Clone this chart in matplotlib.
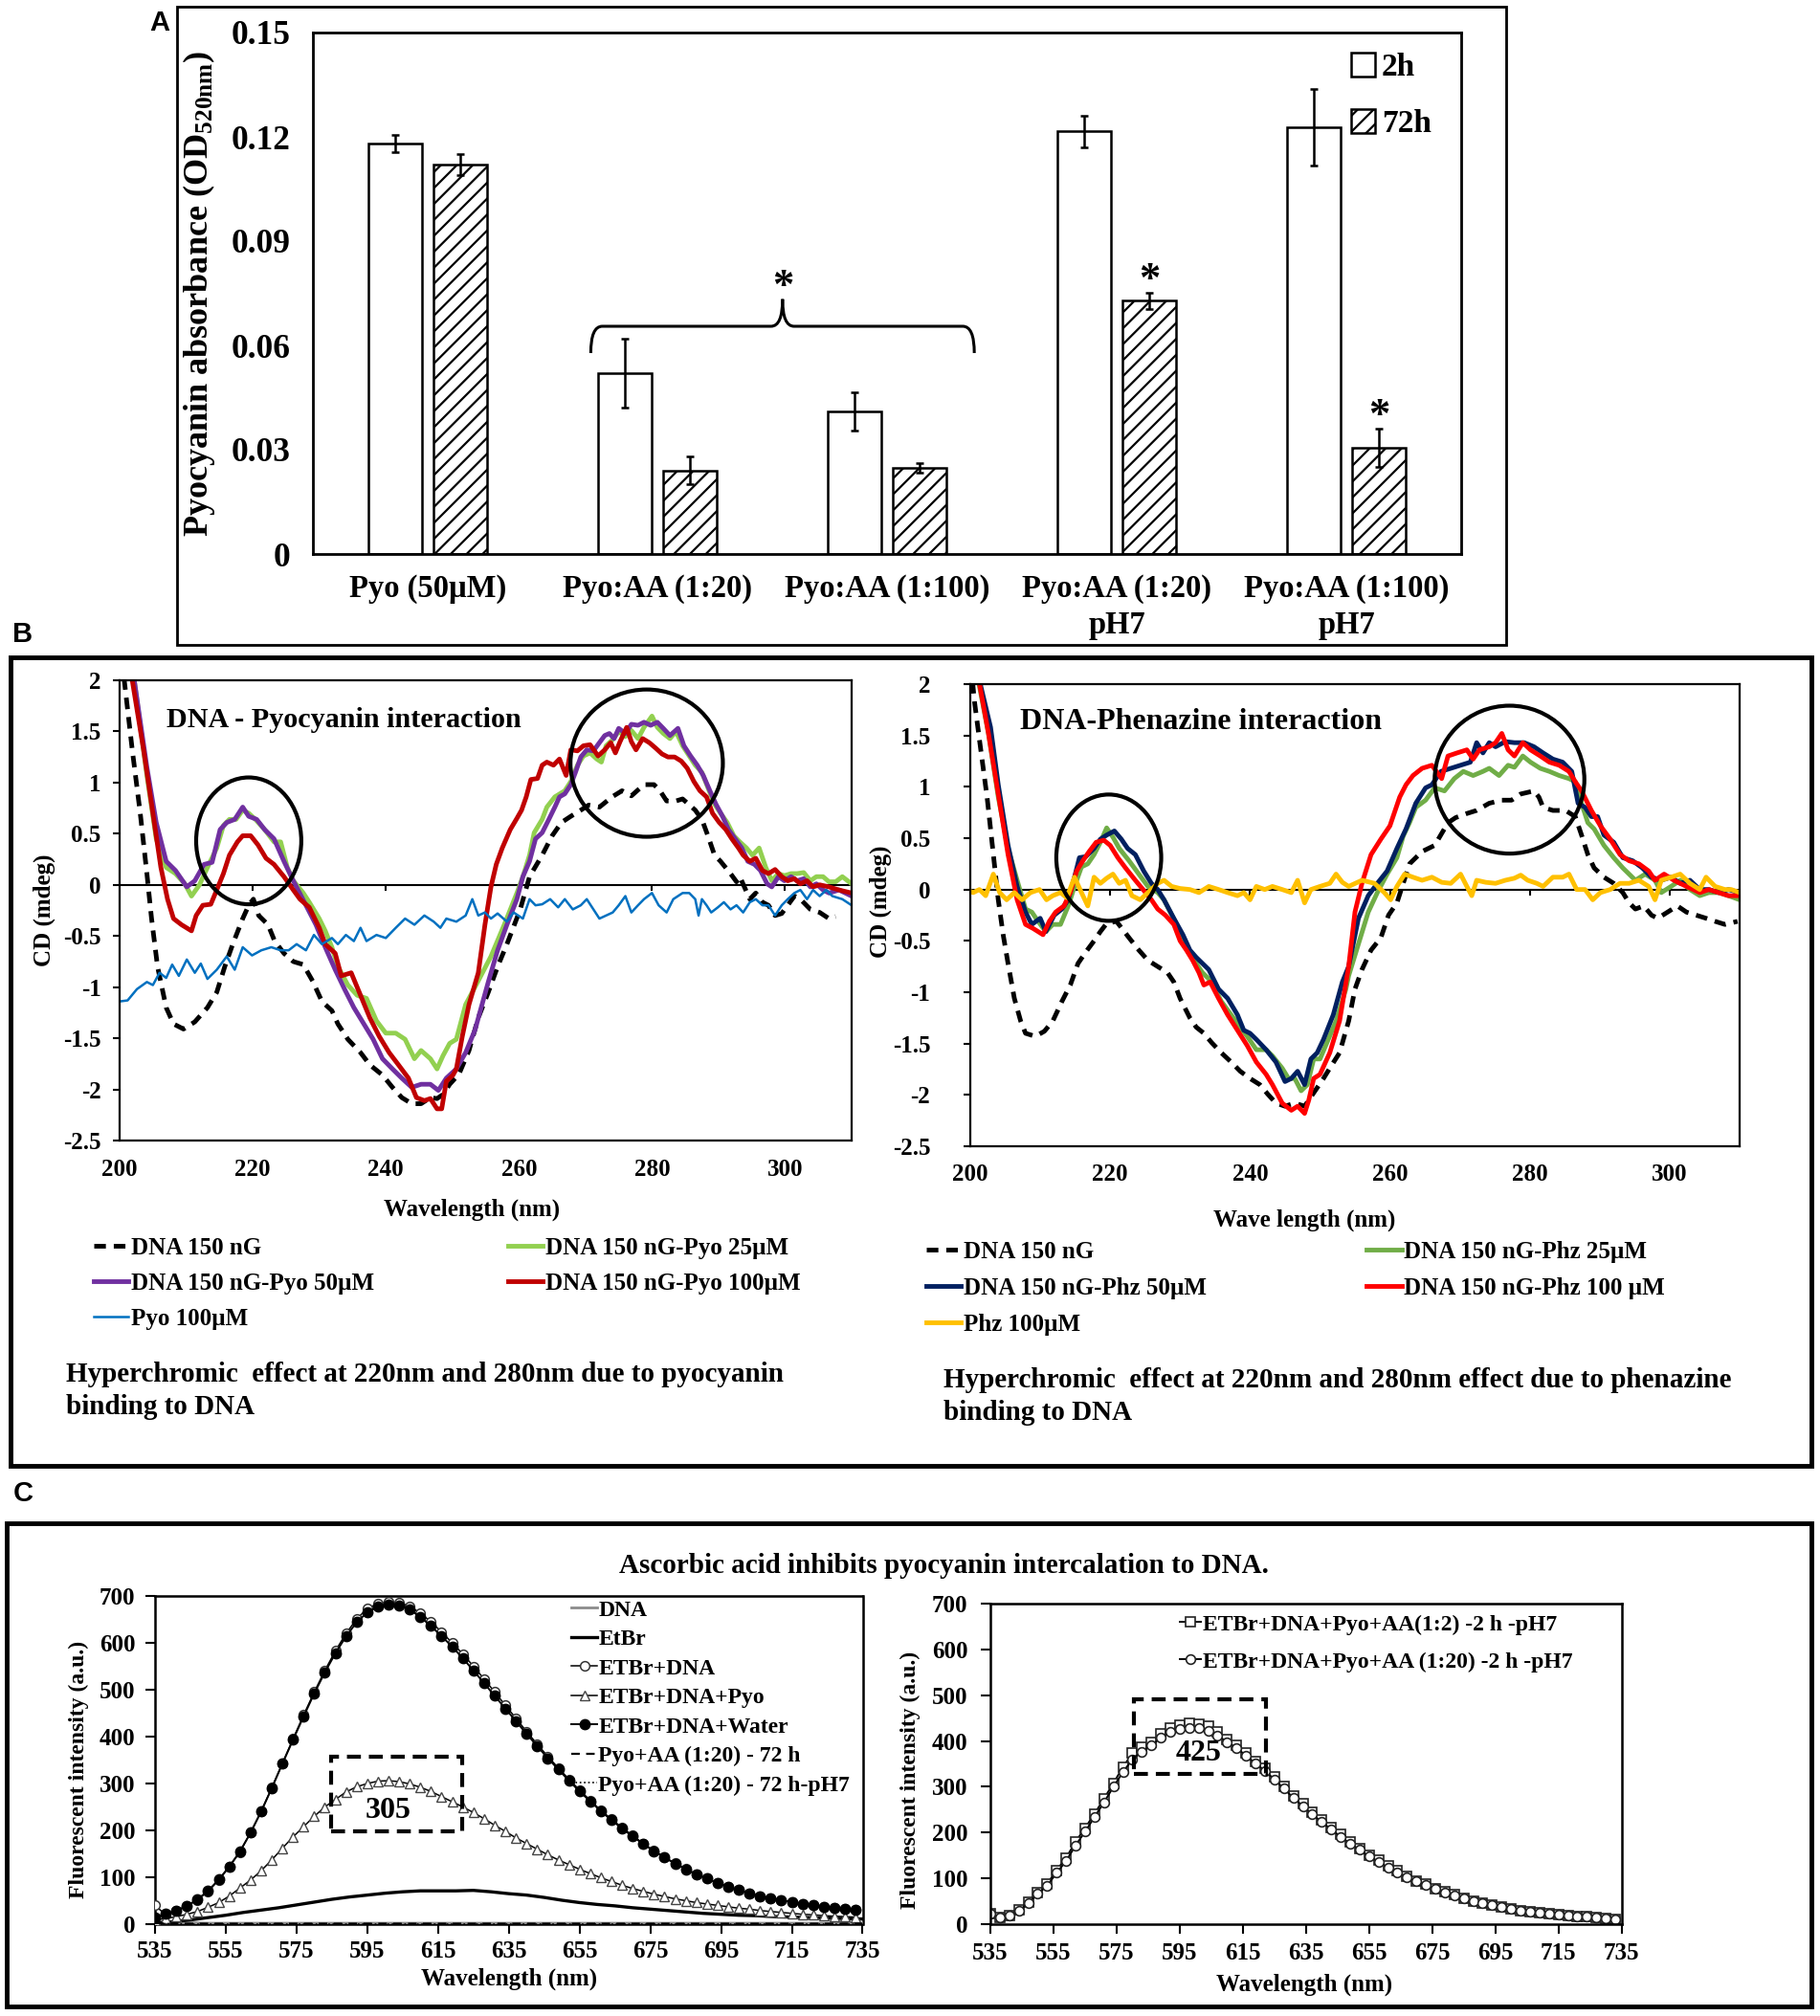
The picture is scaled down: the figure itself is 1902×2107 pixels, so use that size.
import numpy as np
import matplotlib
matplotlib.use("Agg")
import matplotlib.pyplot as plt
from matplotlib.patches import Ellipse, Rectangle, PathPatch
from matplotlib.path import Path
from matplotlib.ticker import FuncFormatter

plt.rcParams['font.family'] = ['Liberation Serif', 'DejaVu Serif']
plt.rcParams['font.weight'] = 'bold'
plt.rcParams['axes.unicode_minus'] = False
plt.rcParams['mathtext.fontset'] = 'custom'
plt.rcParams['mathtext.rm'] = 'Liberation Serif:bold'
plt.rcParams['mathtext.it'] = 'Liberation Serif:bold'
plt.rcParams['mathtext.bf'] = 'Liberation Serif:bold'
plt.rcParams['hatch.linewidth'] = 1.6

# ---------------- panel A data ----------------
groups = ['Pyo (50µM)', 'Pyo:AA (1:20)', 'Pyo:AA (1:100)',
          'Pyo:AA (1:20)\npH7', 'Pyo:AA (1:100)\npH7']
abs_2h = [0.118, 0.052, 0.041, 0.1216, 0.1228]
err_2h = [0.0025, 0.010, 0.0055, 0.0045, 0.011]
abs_72h = [0.112, 0.024, 0.0248, 0.0728, 0.0306]
err_72h = [0.003, 0.004, 0.0013, 0.0023, 0.0055]

# curly bracket over the two AA groups: left end, right end, bar height, foot height, tip height
brace = dict(x0=0.71, x1=2.38, y=0.0655, foot=0.0578, tip=0.0733)

# ---------------- panel B data (wavelength, CD) ----------------
b1_dna = [(200.0, 2.4), (200.7, 2.0), (201.9, 1.32), (203.1, 0.70), (204.1, 0.11), (204.8, -0.33),
          (205.7, -0.80), (207.0, -1.20), (208.1, -1.36), (209.6, -1.41), (211.3, -1.34), (213.2, -1.20),
          (214.6, -1.05), (215.8, -0.80), (217.0, -0.58), (218.5, -0.33), (219.4, -0.20), (220.1, -0.14),
          (220.9, -0.30), (222.3, -0.39), (223.3, -0.55), (224.7, -0.67), (226.1, -0.75), (227.6, -0.78),
          (229.0, -0.94), (230.4, -1.14), (231.9, -1.23), (232.8, -1.36), (234.3, -1.51), (236.2, -1.64),
          (237.6, -1.76), (239.5, -1.86), (241.0, -1.98), (242.4, -2.08), (243.9, -2.14), (245.3, -2.14),
          (246.7, -2.08), (247.7, -2.09), (248.6, -2.05), (249.6, -1.95), (251.0, -1.85), (252.5, -1.62),
          (253.9, -1.30), (255.4, -1.05), (256.8, -0.80), (258.2, -0.58), (260.2, -0.24), (261.6, 0.08),
          (263.5, 0.29), (265.0, 0.48), (266.4, 0.61), (267.8, 0.67), (269.3, 0.73), (270.5, 0.78),
          (272.1, 0.76), (274.0, 0.86), (275.5, 0.92), (276.9, 0.87), (278.8, 0.98), (280.3, 0.98),
          (281.2, 0.92), (282.2, 0.82), (283.6, 0.82), (284.6, 0.84), (286.5, 0.73), (287.5, 0.64),
          (288.4, 0.48), (289.4, 0.29), (290.3, 0.23), (291.8, 0.11), (292.7, 0.03), (293.2, 0.08),
          (294.7, -0.14), (295.6, -0.08), (296.6, -0.17), (297.5, -0.20), (298.5, -0.30), (299.5, -0.28),
          (301.4, -0.11), (302.3, -0.14), (303.8, -0.24), (305.2, -0.27), (306.6, -0.33), (307.6, -0.31)]

b1_pyo25 = [(200.5, 2.5), (202.2, 2.0), (204.1, 1.07), (205.5, 0.45), (207.0, 0.17), (208.4, 0.11),
            (209.8, 0.01), (210.8, -0.11), (212.0, 0.0), (213.2, 0.17), (214.6, 0.36), (215.6, 0.58),
            (216.5, 0.64), (217.5, 0.64), (218.5, 0.73), (219.4, 0.70), (220.4, 0.64), (221.8, 0.54),
            (223.2, 0.42), (224.2, 0.42), (225.2, 0.17), (226.1, 0.04), (227.6, -0.08), (228.5, -0.17),
            (230.0, -0.33), (230.9, -0.45), (231.9, -0.61), (232.8, -0.80), (234.3, -0.98), (235.7, -1.08),
            (237.1, -1.11), (238.6, -1.33), (240.0, -1.45), (241.5, -1.45), (242.9, -1.51), (244.3, -1.70),
            (245.3, -1.62), (246.7, -1.70), (247.7, -1.80), (248.6, -1.67), (249.6, -1.55), (250.6, -1.51),
            (252.0, -1.17), (253.4, -1.00), (255.8, -0.70), (257.8, -0.39), (259.7, -0.08), (260.6, 0.08),
            (261.6, 0.29), (262.3, 0.51), (263.5, 0.64), (264.2, 0.76), (265.4, 0.86), (266.9, 0.92),
            (267.8, 1.01), (268.8, 1.17), (269.7, 1.26), (270.7, 1.29), (271.7, 1.23), (272.4, 1.20),
            (273.1, 1.36), (274.1, 1.42), (275.0, 1.50), (276.0, 1.45), (276.9, 1.51), (277.9, 1.43),
            (278.8, 1.54), (280.0, 1.65), (280.8, 1.54), (281.7, 1.48), (282.7, 1.43), (283.6, 1.50),
            (284.6, 1.36), (285.6, 1.26), (286.5, 1.17), (287.5, 1.10), (288.4, 0.95), (289.4, 0.79),
            (290.3, 0.70), (291.3, 0.61), (292.3, 0.48), (293.2, 0.42), (294.2, 0.36), (295.1, 0.29),
            (296.1, 0.36), (297.1, 0.17), (298.0, 0.04), (299.0, 0.11), (299.9, 0.09), (300.9, 0.11),
            (301.8, 0.11), (302.8, 0.12), (303.8, 0.04), (304.7, 0.08), (305.7, 0.08), (306.6, 0.03),
            (307.6, 0.03), (308.6, 0.08), (310.0, 0.01)]

b1_pyo50 = [(200.5, 2.5), (202.2, 2.0), (204.1, 1.15), (205.5, 0.61), (207.0, 0.23), (208.4, 0.14),
            (210.1, -0.02), (211.3, 0.04), (212.7, 0.20), (213.9, 0.22), (215.1, 0.54), (216.1, 0.61),
            (217.3, 0.64), (218.5, 0.76), (219.4, 0.67), (220.6, 0.64), (221.8, 0.54), (223.2, 0.45),
            (224.7, 0.23), (226.1, 0.04), (228.0, -0.20), (229.5, -0.39), (230.9, -0.61), (232.4, -0.83),
            (233.8, -1.02), (235.2, -1.20), (236.7, -1.36), (238.1, -1.51), (239.5, -1.70), (241.0, -1.80),
            (242.4, -1.89), (243.9, -1.98), (245.3, -1.95), (246.7, -1.95), (247.9, -2.01), (249.1, -1.89),
            (250.1, -1.83), (250.6, -1.80), (252.0, -1.64), (253.4, -1.42), (255.4, -0.95), (256.8, -0.64),
            (258.2, -0.39), (259.7, -0.14), (260.6, 0.08), (261.6, 0.23), (262.5, 0.45), (263.5, 0.51),
            (264.5, 0.64), (265.4, 0.76), (266.1, 0.86), (266.9, 0.89), (267.8, 0.98), (268.5, 1.10),
            (269.3, 1.25), (270.2, 1.32), (271.2, 1.31), (272.1, 1.39), (272.9, 1.46), (273.6, 1.48),
            (274.3, 1.43), (275.0, 1.53), (276.0, 1.48), (276.9, 1.57), (277.9, 1.56), (278.8, 1.59),
            (279.8, 1.56), (280.8, 1.59), (281.7, 1.53), (282.7, 1.46), (283.9, 1.53), (284.8, 1.36),
            (285.8, 1.26), (286.8, 1.17), (287.7, 1.07), (288.7, 0.92), (289.6, 0.79), (290.6, 0.67),
            (291.5, 0.54), (292.5, 0.45), (293.5, 0.36), (294.4, 0.23), (295.4, 0.20), (296.3, 0.14),
            (297.3, 0.01), (298.0, -0.02), (299.0, 0.08), (299.9, 0.04), (300.9, 0.08), (301.8, 0.04),
            (302.8, 0.06), (303.8, -0.02), (304.7, 0.01), (305.7, -0.05), (306.6, -0.08), (308.1, -0.05),
            (310.0, -0.11)]

b1_pyo100 = [(200.3, 2.5), (201.9, 2.0), (203.6, 1.32), (205.0, 0.70), (206.2, 0.17), (207.2, -0.14),
             (208.1, -0.33), (209.3, -0.39), (210.8, -0.45), (211.5, -0.30), (212.5, -0.20), (213.7, -0.19),
             (214.6, -0.05), (215.6, 0.11), (216.5, 0.29), (217.7, 0.42), (218.5, 0.48), (219.7, 0.48),
             (220.8, 0.39), (222.0, 0.26), (223.2, 0.20), (224.7, 0.08), (226.1, -0.05), (227.1, -0.14),
             (228.5, -0.22), (230.0, -0.42), (230.9, -0.58), (232.4, -0.67), (233.3, -0.89), (234.8, -0.86),
             (236.2, -1.08), (237.6, -1.30), (239.0, -1.48), (240.5, -1.64), (241.9, -1.76), (243.4, -1.89),
             (244.6, -2.08), (245.8, -2.11), (246.7, -2.09), (247.7, -2.19), (248.4, -2.19), (249.1, -1.92),
             (250.1, -1.86), (250.6, -1.80), (251.5, -1.48), (252.5, -1.17), (253.9, -0.86), (254.9, -0.39),
             (255.8, -0.02), (256.6, 0.20), (257.5, 0.36), (258.7, 0.54), (259.7, 0.65), (260.4, 0.73),
             (261.1, 0.86), (261.8, 1.03), (262.8, 1.04), (263.5, 1.17), (264.2, 1.20), (265.2, 1.17),
             (266.1, 1.23), (267.1, 1.07), (267.8, 1.32), (268.8, 1.31), (269.7, 1.36), (270.7, 1.37),
             (271.9, 1.26), (272.9, 1.32), (273.8, 1.39), (274.5, 1.29), (275.2, 1.40), (276.2, 1.54),
             (276.9, 1.40), (277.6, 1.32), (278.6, 1.43), (279.6, 1.39), (280.5, 1.34), (281.5, 1.28),
             (282.4, 1.25), (283.4, 1.25), (284.4, 1.21), (285.3, 1.14), (286.3, 1.01), (287.2, 0.92),
             (288.2, 0.86), (289.1, 0.70), (290.1, 0.61), (291.1, 0.54), (292.0, 0.45), (293.0, 0.36),
             (293.7, 0.29), (294.7, 0.23), (295.6, 0.26), (296.6, 0.14), (297.5, 0.11), (298.5, 0.15),
             (299.5, 0.08), (300.4, 0.04), (301.4, 0.06), (302.3, 0.01), (303.3, 0.04), (304.2, -0.02),
             (305.2, 0.0), (306.6, -0.02), (308.1, -0.05), (310.0, -0.08)]

b1_pyo_only = [(200.0, -1.14), (201.2, -1.13), (202.6, -1.02), (204.1, -0.95), (205.0, -0.98), (206.0, -0.86),
               (207.0, -0.91), (207.9, -0.78), (208.9, -0.89), (210.1, -0.73), (211.3, -0.86), (212.2, -0.77),
               (213.2, -0.92), (214.6, -0.83), (216.1, -0.70), (217.3, -0.83), (218.5, -0.61), (219.9, -0.69),
               (221.3, -0.64), (222.8, -0.61), (224.2, -0.64), (225.4, -0.64), (226.6, -0.58), (228.0, -0.64),
               (229.2, -0.49), (230.4, -0.58), (231.9, -0.52), (232.8, -0.58), (234.0, -0.49), (235.2, -0.55),
               (236.2, -0.42), (237.1, -0.55), (238.6, -0.49), (240.0, -0.52), (241.5, -0.42), (242.9, -0.33),
               (244.3, -0.39), (245.8, -0.30), (247.2, -0.36), (248.2, -0.42), (249.1, -0.33), (250.6, -0.36),
               (252.0, -0.30), (253.0, -0.14), (253.9, -0.30), (254.9, -0.27), (255.8, -0.33), (256.8, -0.28),
               (258.2, -0.36), (259.2, -0.27), (260.6, -0.33), (261.6, -0.14), (262.5, -0.20), (263.5, -0.19),
               (264.7, -0.14), (265.9, -0.22), (266.9, -0.14), (268.1, -0.24), (269.3, -0.20), (270.2, -0.14),
               (271.2, -0.24), (272.1, -0.33), (273.1, -0.30), (274.1, -0.27), (275.0, -0.20), (276.0, -0.11),
               (276.9, -0.27), (277.9, -0.20), (278.8, -0.14), (280.0, -0.08), (281.0, -0.20), (282.2, -0.27),
               (283.2, -0.14), (284.6, -0.08), (285.6, -0.08), (286.5, -0.14), (287.0, -0.30), (287.5, -0.14),
               (288.2, -0.20), (288.9, -0.27), (289.9, -0.22), (290.8, -0.17), (291.8, -0.24), (292.7, -0.20),
               (293.7, -0.27), (294.7, -0.17), (295.6, -0.14), (296.6, -0.20), (297.5, -0.20), (298.5, -0.30),
               (299.5, -0.20), (300.4, -0.14), (301.4, -0.08), (302.3, -0.05), (303.3, -0.14), (304.2, -0.05),
               (305.2, -0.11), (306.2, -0.05), (307.1, -0.11), (308.6, -0.14), (310.0, -0.20)]

b2_dna = [(199.8, 2.4), (200.6, 1.83), (201.5, 1.36), (202.4, 0.90), (203.3, 0.34), (204.0, -0.10),
          (204.7, -0.44), (205.4, -0.72), (206.3, -1.06), (207.2, -1.28), (207.9, -1.40), (209.3, -1.43),
          (210.6, -1.38), (211.8, -1.28), (213.1, -1.09), (214.3, -0.93), (215.4, -0.72), (216.5, -0.61),
          (217.7, -0.50), (218.6, -0.41), (219.5, -0.33), (220.9, -0.31), (221.8, -0.39), (222.7, -0.47),
          (224.1, -0.59), (225.4, -0.69), (226.8, -0.75), (228.2, -0.81), (229.1, -0.90), (230.0, -1.06),
          (231.4, -1.25), (232.3, -1.34), (233.4, -1.40), (234.5, -1.49), (235.9, -1.59), (237.3, -1.68),
          (238.6, -1.77), (240.0, -1.84), (241.4, -1.90), (242.5, -1.99), (243.7, -2.08), (245.0, -2.11),
          (246.4, -2.08), (247.8, -2.11), (248.7, -2.02), (249.6, -1.93), (250.5, -1.84), (251.4, -1.74),
          (252.8, -1.59), (254.1, -1.28), (255.0, -0.97), (256.0, -0.78), (257.3, -0.59), (258.7, -0.47),
          (259.8, -0.25), (261.0, -0.13), (261.9, 0.06), (262.8, 0.25), (264.6, 0.37), (266.4, 0.43),
          (268.3, 0.65), (269.4, 0.70), (271.0, 0.74), (272.4, 0.77), (274.2, 0.84), (276.0, 0.87),
          (277.4, 0.87), (278.7, 0.93), (280.6, 0.96), (281.3, 0.90), (281.9, 0.80), (283.3, 0.77),
          (285.1, 0.77), (286.5, 0.71), (287.4, 0.53), (288.3, 0.34), (289.2, 0.21), (290.6, 0.12),
          (292.0, 0.06), (293.3, -0.03), (294.2, -0.13), (295.1, -0.19), (296.3, -0.16), (297.4, -0.25),
          (298.3, -0.28), (299.7, -0.22), (301.1, -0.16), (302.4, -0.22), (303.8, -0.25), (305.2, -0.28),
          (306.5, -0.31), (307.9, -0.34), (309.7, -0.31)]

b2_phz25 = [(200.8, 2.4), (201.3, 1.98), (202.6, 1.52), (204.0, 0.90), (205.4, 0.40), (206.7, 0.09),
            (207.9, -0.19), (208.8, -0.22), (209.7, -0.31), (210.8, -0.41), (211.8, -0.34), (212.9, -0.34),
            (214.0, -0.16), (214.9, 0.03), (215.9, 0.22), (216.8, 0.25), (217.7, 0.34), (218.6, 0.46),
            (219.5, 0.60), (220.4, 0.51), (221.3, 0.40), (222.7, 0.28), (224.1, 0.15), (225.4, 0.03),
            (226.8, -0.03), (227.7, -0.10), (228.6, -0.22), (229.5, -0.34), (230.4, -0.50), (231.4, -0.62),
            (232.3, -0.72), (233.2, -0.81), (234.1, -0.87), (235.0, -0.97), (235.9, -1.09), (237.3, -1.22),
            (238.6, -1.34), (239.6, -1.43), (240.9, -1.56), (242.3, -1.56), (243.2, -1.62), (244.6, -1.74),
            (245.5, -1.84), (246.4, -1.84), (247.3, -1.96), (248.2, -1.90), (249.1, -1.65), (250.0, -1.65),
            (251.0, -1.49), (252.3, -1.28), (253.7, -0.97), (254.1, -0.84), (255.5, -0.53), (256.9, -0.22),
            (258.2, -0.03), (259.6, 0.15), (261.0, 0.31), (261.9, 0.52), (262.8, 0.65), (263.7, 0.80),
            (265.1, 0.87), (266.4, 0.99), (267.8, 0.96), (269.2, 1.08), (270.5, 1.15), (271.9, 1.11),
            (273.3, 1.15), (274.2, 1.18), (275.6, 1.11), (276.9, 1.21), (277.8, 1.19), (279.0, 1.30),
            (280.1, 1.24), (281.5, 1.18), (282.8, 1.15), (284.2, 1.11), (285.6, 1.08), (286.5, 1.05),
            (287.4, 0.84), (288.3, 0.65), (289.2, 0.59), (290.6, 0.43), (292.0, 0.31), (293.3, 0.21),
            (294.2, 0.15), (295.1, 0.09), (296.5, 0.15), (297.9, 0.09), (298.8, -0.03), (300.2, 0.03),
            (301.5, 0.09), (302.9, 0.0), (304.3, -0.06), (305.6, -0.03), (307.0, -0.03), (308.4, -0.06),
            (310.0, -0.10)]

b2_phz50 = [(201.0, 2.4), (201.5, 1.98), (202.9, 1.58), (204.0, 1.02), (205.4, 0.43), (206.7, 0.03),
            (207.9, -0.22), (208.8, -0.34), (210.0, -0.28), (210.8, -0.41), (212.0, -0.25), (213.1, -0.19),
            (214.0, -0.10), (214.9, 0.12), (215.6, 0.31), (216.5, 0.32), (217.7, 0.40), (218.6, 0.49),
            (219.5, 0.53), (220.6, 0.57), (221.6, 0.49), (222.5, 0.40), (223.6, 0.34), (224.8, 0.18),
            (225.9, 0.06), (226.8, 0.0), (227.7, -0.10), (229.1, -0.28), (230.4, -0.44), (231.4, -0.59),
            (232.3, -0.66), (233.2, -0.72), (234.1, -0.78), (235.5, -0.97), (236.8, -1.06), (238.2, -1.22),
            (239.1, -1.37), (240.0, -1.40), (240.9, -1.46), (242.3, -1.56), (243.7, -1.68), (245.0, -1.87),
            (245.9, -1.84), (246.8, -1.77), (247.8, -1.90), (248.7, -1.65), (249.6, -1.59), (250.5, -1.46),
            (251.9, -1.22), (253.2, -0.90), (254.1, -0.75), (255.5, -0.28), (256.9, -0.06), (258.2, 0.06),
            (259.6, 0.18), (261.0, 0.40), (262.3, 0.59), (263.7, 0.84), (265.1, 0.99), (266.0, 1.02),
            (267.3, 1.15), (268.7, 1.18), (270.1, 1.21), (271.5, 1.24), (272.4, 1.43), (273.3, 1.33),
            (274.2, 1.43), (275.1, 1.39), (276.5, 1.44), (277.8, 1.43), (279.2, 1.43), (280.6, 1.39),
            (281.9, 1.33), (283.3, 1.27), (284.7, 1.24), (286.0, 1.15), (286.9, 0.84), (287.9, 0.80),
            (288.8, 0.71), (289.7, 0.71), (290.6, 0.53), (292.0, 0.46), (293.3, 0.31), (294.7, 0.28),
            (296.1, 0.21), (297.4, 0.12), (298.8, 0.09), (300.2, 0.12), (301.5, 0.06), (302.9, 0.09),
            (304.3, 0.0), (305.6, 0.0), (307.0, -0.03), (308.4, 0.0), (310.0, -0.03)]

b2_phz100 = [(200.9, 2.4), (201.3, 2.01), (202.6, 1.52), (204.0, 0.93), (205.4, 0.34), (206.7, -0.10),
             (207.9, -0.34), (209.0, -0.38), (210.4, -0.44), (211.3, -0.31), (212.2, -0.22), (213.4, -0.16),
             (214.3, -0.03), (215.2, 0.18), (216.1, 0.28), (217.0, 0.37), (218.0, 0.46), (219.1, 0.48),
             (220.0, 0.43), (221.1, 0.31), (222.2, 0.21), (223.6, 0.09), (224.7, 0.0), (225.9, -0.10),
             (226.8, -0.19), (227.9, -0.25), (229.1, -0.34), (230.0, -0.50), (230.9, -0.59), (231.8, -0.69),
             (232.7, -0.81), (233.4, -0.93), (234.3, -0.90), (235.5, -1.06), (236.8, -1.22), (238.2, -1.37),
             (239.6, -1.52), (240.9, -1.68), (242.3, -1.80), (243.2, -1.90), (244.6, -2.08), (245.9, -2.15),
             (246.8, -2.11), (247.8, -2.18), (248.4, -2.05), (249.1, -1.84), (250.0, -1.80), (251.4, -1.59),
             (252.8, -1.28), (254.1, -0.75), (255.0, -0.22), (256.0, 0.06), (257.3, 0.34), (258.7, 0.49),
             (260.0, 0.62), (261.4, 0.90), (262.3, 1.02), (263.3, 1.11), (264.6, 1.18), (266.0, 1.21),
             (267.4, 1.08), (268.3, 1.30), (269.6, 1.33), (271.0, 1.36), (271.9, 1.27), (272.8, 1.36),
             (274.2, 1.39), (275.1, 1.43), (276.0, 1.52), (276.9, 1.36), (277.8, 1.30), (279.0, 1.43),
             (280.1, 1.36), (281.5, 1.30), (282.8, 1.24), (284.2, 1.21), (285.6, 1.15), (286.5, 1.05),
             (287.4, 0.96), (288.8, 0.77), (290.1, 0.62), (291.5, 0.49), (292.9, 0.34), (294.2, 0.28),
             (295.6, 0.25), (297.0, 0.18), (297.9, 0.09), (299.2, 0.15), (300.6, 0.09), (302.4, 0.03),
             (304.3, -0.03), (305.6, 0.0), (307.0, -0.03), (308.4, -0.06), (310.0, -0.06)]

b2_phz_only = [(199.5, 0.0), (200.4, -0.03), (201.3, 0.0), (202.2, -0.06), (203.3, 0.15), (204.2, -0.03),
               (205.2, -0.10), (206.3, -0.03), (207.4, -0.10), (208.6, -0.03), (209.9, 0.0), (210.9, -0.10),
               (211.8, -0.06), (212.9, -0.03), (213.8, -0.08), (214.9, 0.12), (215.9, -0.03), (216.8, -0.16),
               (217.7, 0.12), (218.6, 0.06), (219.5, 0.11), (220.4, 0.15), (221.3, 0.06), (222.2, 0.09),
               (223.1, -0.06), (224.3, -0.10), (225.4, -0.03), (226.8, 0.06), (227.7, 0.09), (228.8, 0.03),
               (230.0, 0.01), (231.4, 0.0), (232.7, -0.03), (234.1, 0.03), (235.5, 0.0), (236.8, -0.03),
               (238.2, -0.06), (239.1, -0.03), (240.0, -0.10), (240.9, 0.03), (242.1, 0.0), (243.2, 0.03),
               (244.6, 0.0), (245.9, -0.03), (246.8, 0.09), (247.8, -0.13), (248.7, 0.0), (250.0, 0.03),
               (251.4, 0.06), (252.3, 0.15), (253.2, 0.07), (254.1, 0.03), (256.0, 0.09), (257.8, 0.06),
               (259.2, -0.03), (260.1, -0.10), (261.0, 0.03), (262.1, 0.15), (263.3, 0.12), (264.6, 0.09),
               (266.0, 0.12), (267.4, 0.07), (268.7, 0.06), (270.1, 0.15), (271.0, 0.03), (271.7, -0.06),
               (272.4, 0.09), (273.7, 0.07), (275.1, 0.06), (276.5, 0.09), (277.8, 0.11), (278.7, 0.14),
               (279.7, 0.09), (281.0, 0.06), (281.9, 0.03), (283.3, 0.12), (284.7, 0.12), (285.6, 0.15),
               (286.7, 0.0), (287.9, 0.0), (289.0, -0.10), (290.1, -0.03), (291.5, 0.0), (292.9, 0.06),
               (294.2, 0.06), (295.6, 0.09), (297.0, 0.03), (297.9, -0.10), (298.8, 0.09), (300.2, 0.12),
               (301.5, 0.15), (302.9, 0.06), (304.3, 0.0), (305.2, 0.12), (306.5, 0.03), (307.9, 0.0),
               (308.8, 0.0), (310.0, -0.03)]

# circled regions (centre wavelength, centre CD, width nm, height mdeg)
b1_circles = [(219.4, 0.43, 15.8, 1.24), (279.2, 1.19, 22.9, 1.44)]
b2_circles = [(219.8, 0.31, 15.0, 1.23), (277.1, 1.07, 21.4, 1.44)]

# ---------------- panel C data ----------------
# marker series sampled every 3 nm from 535 nm
c1_etbr_dna = [40, 20, 28, 38, 52, 70, 94, 122, 154, 195,
               241, 291, 343, 395, 446, 495, 541, 583, 620, 651,
               673, 684, 687, 686, 678, 663, 645, 623, 600, 576,
               550, 523, 495, 467, 439, 411, 384, 358, 333, 309,
               286, 264, 243, 224, 206, 189, 172, 157, 143, 130,
               118, 107, 97, 88, 80, 73, 66, 60, 55, 51,
               47, 43, 40, 37, 34, 32, 30]
c1_etbr_dna_pyo = [9, 12, 16, 21, 27, 36, 46, 60, 77, 94,
                   114, 137, 162, 186, 208, 230, 250, 266, 282, 293,
                   300, 305, 306, 304, 299, 292, 283, 272, 261, 250,
                   238, 225, 211, 198, 184, 172, 160, 148, 137, 127,
                   117, 108, 99, 91, 83, 76, 70, 64, 59, 54,
                   50, 46, 43, 40, 37, 34, 32, 29, 27, 25,
                   23, 21, 20, 18, 17, 16, 15]
c1_etbr_dna_water = [15, 22, 29, 39, 53, 71, 95, 123, 155, 195,
                     240, 290, 342, 393, 443, 492, 537, 578, 614, 644,
                     665, 677, 681, 680, 671, 655, 636, 614, 592, 567,
                     541, 514, 487, 460, 433, 406, 380, 354, 330, 306,
                     283, 262, 241, 222, 204, 187, 171, 156, 142, 129,
                     117, 106, 97, 88, 80, 73, 66, 60, 55, 51,
                     47, 43, 40, 37, 34, 32, 30]
# line-only series sampled every 5 nm from 535 nm
c1_etbr = [3, 5, 9, 14, 19, 25, 30, 35, 41, 47, 53, 58, 62, 66, 69, 71, 71, 71, 72, 69, 65,
           62, 57, 51, 46, 42, 39, 35, 32, 29, 26, 23, 21, 19, 18, 16, 15, 14, 13, 12, 11]
c1_dna = [4, 3, 3, 2, 2, 2, 2, 2, 2, 2, 2, 2, 2, 2, 2, 2, 2, 2, 2, 2, 2,
          2, 2, 2, 2, 2, 2, 2, 2, 2, 2, 2, 2, 2, 2, 2, 2, 2, 2, 2, 2]
c1_aa72 = [2, 1, 1, 1, 1, 1, 1, 1, 1, 1, 1, 1, 1, 1, 1, 1, 1, 1, 1, 1, 1,
           1, 1, 1, 1, 1, 1, 1, 1, 1, 1, 1, 1, 1, 1, 1, 1, 1, 1, 1, 1]
c1_aa72_ph7 = [1, 1, 0, 0, 0, 0, 0, 0, 0, 0, 0, 0, 0, 0, 0, 0, 0, 0, 0, 0, 0,
               0, 0, 0, 0, 0, 0, 0, 0, 0, 0, 0, 0, 0, 0, 0, 0, 0, 0, 0, 0]

c2_aa2 = [24, 15, 19, 31, 49, 70, 88, 118, 145, 180,
          210, 241, 274, 308, 343, 373, 387, 398, 415, 428,
          435, 439, 437, 432, 419, 404, 391, 374, 356, 340,
          322, 301, 281, 263, 244, 228, 212, 196, 180, 166,
          151, 139, 127, 116, 105, 95, 87, 78, 71, 64,
          57, 51, 46, 42, 38, 34, 30, 28, 26, 23,
          21, 19, 17, 16, 14, 13, 11]
c2_aa20 = [22, 14, 18, 29, 46, 66, 84, 112, 138, 172,
           202, 234, 266, 300, 332, 360, 377, 390, 407, 419,
           426, 429, 428, 423, 412, 398, 385, 368, 351, 335,
           316, 296, 276, 258, 240, 223, 207, 191, 176, 162,
           148, 136, 124, 113, 103, 93, 85, 77, 70, 63,
           56, 50, 45, 41, 37, 33, 30, 27, 25, 23,
           21, 19, 17, 16, 14, 13, 11]

# dashed boxes (x0, y0, x1, y1) and their labels
c1_box = (584.8, 198, 621.9, 357)
c2_box = (580.5, 328, 622.3, 491)
c1_peak = (601, 241, '305')
c2_peak = (601, 372, '425')

# ---------------- figure ----------------
W, H = 1902, 2107
fig = plt.figure(figsize=(W / 100, H / 100), dpi=100)


def px_axes(x0, y0, x1, y1):
    return fig.add_axes([x0 / W, 1 - y1 / H, (x1 - x0) / W, (y1 - y0) / H])


def px_frame(x0, y0, x1, y1, lw):
    fig.patches.append(Rectangle((x0 / W, 1 - y1 / H), (x1 - x0) / W, (y1 - y0) / H,
                                 transform=fig.transFigure, fill=False, lw=lw, ec='black'))


def fig_text(x, y, s, **kw):
    fig.text(x / W, 1 - y / H, s, **kw)


gfmt = FuncFormatter(lambda v, p: f'{v:g}')

# ---- A ----
px_frame(185, 7, 1574, 674, 2.0)
fig_text(167, 24, 'A', family='Liberation Sans', weight='bold', fontsize=21, ha='center', va='center')
axA = px_axes(327, 34, 1527, 579)
xpos = np.arange(len(groups))
bw, off = 0.23, 0.142
ekw = dict(elinewidth=1.8, capthick=1.8, ecolor='black')
axA.bar(xpos - off, abs_2h, bw, yerr=err_2h, color='white', edgecolor='black', lw=1.8,
        capsize=3, error_kw=ekw, label='2h')
axA.bar(xpos + off, abs_72h, bw, yerr=err_72h, color='white', edgecolor='black', lw=1.8,
        hatch='//', capsize=3, error_kw=ekw, label='72h')
axA.set_xlim(-0.5, 4.5)
axA.set_ylim(0, 0.15)
axA.set_yticks(np.arange(0, 0.151, 0.03))
axA.yaxis.set_major_formatter(gfmt)
axA.set_xticks(xpos)
axA.set_xticklabels(groups, fontsize=23.5, linespacing=1.3)
axA.tick_params(axis='x', length=0, pad=15)
axA.tick_params(axis='y', length=0, pad=17, labelsize=25.5)
for s in axA.spines.values():
    s.set_linewidth(2)

# curly bracket
bx0, bx1, by, bf, bt = brace['x0'], brace['x1'], brace['y'], brace['foot'], brace['tip']
bxc = (bx0 + bx1) / 2
r = 0.05
brace_path = Path([(bx0, bf), (bx0, by), (bx0 + r, by), (bxc - r, by), (bxc, by), (bxc, bt),
                   (bxc, by), (bxc + r, by), (bx1 - r, by), (bx1, by), (bx1, bf)],
                  [Path.MOVETO, Path.CURVE3, Path.CURVE3, Path.LINETO, Path.CURVE3, Path.CURVE3,
                   Path.CURVE3, Path.CURVE3, Path.LINETO, Path.CURVE3, Path.CURVE3])
axA.add_patch(PathPatch(brace_path, fill=False, lw=2.2, ec='black'))
axA.text(bxc, bt + 0.0035, '*', fontsize=32, ha='center', va='center')
for i in (3, 4):
    axA.text(xpos[i] + off, abs_72h[i] + err_72h[i] + 0.0035, '*', fontsize=32, ha='center', va='center')
axA.text(-0.099, 0.5, r'Pyocyanin absorbance (OD$_{\mathrm{520nm}}$)', transform=axA.transAxes,
         rotation=90, fontsize=26, ha='center', va='center')
axA.legend(loc='upper left', bbox_to_anchor=(1412 / W, 1 - 55 / H), bbox_transform=fig.transFigure,
           frameon=False, fontsize=24, handlelength=0.75, handleheight=0.75, handletextpad=0.2,
           labelspacing=0.85, borderpad=0, borderaxespad=0)

# ---- B ----
px_frame(11, 687, 1893, 1532, 3.5)
fig_text(24, 663, 'B', family='Liberation Sans', weight='bold', fontsize=21, ha='center', va='center')


def cd_axes(ax, ypad, xpad):
    ax.set_xlim(200, 310)
    ax.set_ylim(-2.5, 2)
    xt = np.arange(200, 301, 20)
    ax.set_xticks(xt)
    ax.set_yticks(np.arange(-2.5, 2.01, 0.5))
    ax.yaxis.set_major_formatter(gfmt)
    ax.tick_params(axis='x', length=0, pad=xpad, labelsize=18)
    ax.tick_params(axis='y', length=5, width=1.5, direction='out', pad=ypad, labelsize=18)
    for s in ax.spines.values():
        s.set_linewidth(1.6)
    ax.axhline(0, color='black', lw=1.5, zorder=1)
    ax.vlines(xt[1:], -0.06, 0, color='black', lw=1.5, zorder=1)


def draw(ax, data, **kw):
    xs, ys = np.array(data).T
    return ax.plot(xs, ys, **kw)[0]


dash = (0, (2.5, 1.7))

axB1 = px_axes(125, 711, 890, 1192)
cd_axes(axB1, 9, 14)
hb_dna = draw(axB1, b1_dna, color='black', lw=3.5, ls=dash)
hb_25 = draw(axB1, b1_pyo25, color='#92D050', lw=3.5)
hb_50 = draw(axB1, b1_pyo50, color='#7030A0', lw=3.5)
hb_100 = draw(axB1, b1_pyo100, color='#C00000', lw=3.5)
hb_pyo = draw(axB1, b1_pyo_only, color='#0070C0', lw=1.8)
for cx, cy, ew, eh in b1_circles:
    axB1.add_patch(Ellipse((cx, cy), ew, eh, fill=False, lw=3, ec='black', zorder=6))
axB1.text(207, 1.61, 'DNA - Pyocyanin interaction', fontsize=21.7, ha='left', va='center')
axB1.text(-0.103, 0.5, 'CD (mdeg)', transform=axB1.transAxes, rotation=90, fontsize=18,
          ha='center', va='center')
axB1.text(0.481, -0.150, 'Wavelength (nm)', transform=axB1.transAxes, fontsize=18,
          ha='center', va='center')
axB1.legend([hb_dna, hb_50, hb_pyo, hb_25, hb_100],
            ['DNA 150 nG', 'DNA 150 nG-Pyo 50µM', 'Pyo 100µM', 'DNA 150 nG-Pyo 25µM', 'DNA 150 nG-Pyo 100µM'],
            loc='upper left', bbox_to_anchor=(98 / W, 1 - 1293 / H), bbox_transform=fig.transFigure,
            ncol=2, frameon=False, fontsize=18, handlelength=1.45, handletextpad=0.1,
            columnspacing=5.6, labelspacing=0.56, borderpad=0, borderaxespad=0)
fig_text(69, 1436, 'Hyperchromic  effect at 220nm and 280nm due to pyocyanin', fontsize=21, va='center')
fig_text(69, 1471, 'binding to DNA', fontsize=21, va='center')

axB2 = px_axes(1014, 715, 1818, 1198)
cd_axes(axB2, 25, 13)
hp_dna = draw(axB2, b2_dna, color='black', lw=3.5, ls=dash)
hp_25 = draw(axB2, b2_phz25, color='#70AD47', lw=3.5)
hp_50 = draw(axB2, b2_phz50, color='#002060', lw=3.5)
hp_100 = draw(axB2, b2_phz100, color='#FF0000', lw=3.5)
hp_phz = draw(axB2, b2_phz_only, color='#FFC000', lw=3.5)
for cx, cy, ew, eh in b2_circles:
    axB2.add_patch(Ellipse((cx, cy), ew, eh, fill=False, lw=3, ec='black', zorder=6))
axB2.text(207.1, 1.63, 'DNA-Phenazine interaction', fontsize=23, ha='left', va='center')
axB2.text(-0.116, 0.53, 'CD (mdeg)', transform=axB2.transAxes, rotation=90, fontsize=18,
          ha='center', va='center')
axB2.text(0.434, -0.161, 'Wave length (nm)', transform=axB2.transAxes, fontsize=18,
          ha='center', va='center')
axB2.legend([hp_dna, hp_50, hp_phz, hp_25, hp_100],
            ['DNA 150 nG', 'DNA 150 nG-Phz 50µM', 'Phz 100µM', 'DNA 150 nG-Phz 25µM', 'DNA 150 nG-Phz 100 µM'],
            loc='upper left', bbox_to_anchor=(968 / W, 1 - 1297 / H), bbox_transform=fig.transFigure,
            ncol=2, frameon=False, fontsize=18, handlelength=1.45, handletextpad=0.1,
            columnspacing=6.7, labelspacing=0.6, borderpad=0, borderaxespad=0)
fig_text(986, 1443, 'Hyperchromic  effect at 220nm and 280nm effect due to phenazine', fontsize=21, va='center')
fig_text(986, 1477, 'binding to DNA', fontsize=21, va='center')

# ---- C ----
px_frame(7, 1592, 1893, 2097, 3.5)
fig_text(24, 1561, 'C', family='Liberation Sans', weight='bold', fontsize=21, ha='center', va='center')
fig_text(986, 1636, 'Ascorbic acid inhibits pyocyanin intercalation to DNA.', fontsize=21,
         ha='center', va='center')


def fl_axes(ax, ypad, xpad):
    ax.set_xlim(535, 735)
    ax.set_ylim(0, 700)
    ax.set_xticks(np.arange(535, 736, 20))
    ax.set_yticks(np.arange(0, 701, 100))
    ax.tick_params(direction='out', length=7, width=1.5, labelsize=18)
    ax.tick_params(axis='y', pad=ypad)
    ax.tick_params(axis='x', pad=xpad)
    for s in ax.spines.values():
        s.set_linewidth(1.8)


wl3 = 535 + 3 * np.arange(len(c1_etbr_dna_water))
wl5 = 535 + 5 * np.arange(len(c1_etbr))

axC1 = px_axes(162, 1668, 901.5, 2011)
fl_axes(axC1, 8, 5)
axC1.plot(wl5, c1_dna, color='#8c8c8c', lw=2, label='DNA', zorder=3)
axC1.plot(wl5, c1_etbr, color='black', lw=2.4, label='EtBr', zorder=3)
axC1.plot(wl3, c1_etbr_dna, color='black', lw=1.1, marker='o', ms=7, mfc='white', mec='#333333',
          mew=1.1, label='ETBr+DNA', zorder=3)
axC1.plot(wl3, c1_etbr_dna_pyo, color='black', lw=1.1, marker='^', ms=6.5, mfc='white', mec='#444444',
          mew=1.0, label='ETBr+DNA+Pyo', zorder=3)
axC1.plot(wl3, c1_etbr_dna_water, color='black', lw=1.4, marker='o', ms=7.5, mfc='black', mec='black',
          label='ETBr+DNA+Water', zorder=4)
axC1.plot(wl5, c1_aa72, color='black', lw=1.6, ls=(0, (4, 3)), label='Pyo+AA (1:20) - 72 h', zorder=3)
axC1.plot(wl5, c1_aa72_ph7, color='black', lw=1.2, ls=':', label='Pyo+AA (1:20) - 72 h-pH7', zorder=3)
x0, y0, x1, y1 = c1_box
axC1.add_patch(Rectangle((x0, y0), x1 - x0, y1 - y0, fill=False, lw=3, ls=(0, (3.5, 2)), ec='black', zorder=6))
axC1.text(c1_peak[0], c1_peak[1], c1_peak[2], fontsize=23, ha='center', va='center', zorder=7)
axC1.text(-0.107, 0.47, 'Fluorescent intensity (a.u.)', transform=axC1.transAxes, rotation=90,
          fontsize=17, ha='center', va='center')
axC1.text(0.5, -0.168, 'Wavelength (nm)', transform=axC1.transAxes, fontsize=18, ha='center', va='center')
axC1.legend(loc='upper left', bbox_to_anchor=(597 / W, 1 - 1672 / H), bbox_transform=fig.transFigure,
            frameon=False, fontsize=17, handlelength=1.15, handletextpad=0.05, labelspacing=0.38,
            borderpad=0, borderaxespad=0)

axC2 = px_axes(1035, 1676, 1694.6, 2011)
fl_axes(axC2, 10, 6.5)
axC2.plot(wl3, c2_aa2, color='black', lw=1.4, marker='s', ms=6.5, mfc='white', mec='#222222', mew=1.2,
          label='ETBr+DNA+Pyo+AA(1:2) -2 h -pH7')
axC2.plot(wl3, c2_aa20, color='black', lw=1.4, marker='o', ms=7, mfc='white', mec='#222222', mew=1.2,
          label='ETBr+DNA+Pyo+AA (1:20) -2 h -pH7')
x0, y0, x1, y1 = c2_box
axC2.add_patch(Rectangle((x0, y0), x1 - x0, y1 - y0, fill=False, lw=3, ls=(0, (3.5, 2)), ec='black', zorder=6))
axC2.text(c2_peak[0], c2_peak[1], c2_peak[2], fontsize=23, ha='center', va='center', zorder=7)
axC2.text(-0.126, 0.45, 'Fluorescent intensity (a.u.)', transform=axC2.transAxes, rotation=90,
          fontsize=17, ha='center', va='center')
axC2.text(0.497, -0.188, 'Wavelength (nm)', transform=axC2.transAxes, fontsize=18, ha='center', va='center')
axC2.legend(loc='upper left', bbox_to_anchor=(1233 / W, 1 - 1687 / H), bbox_transform=fig.transFigure,
            frameon=False, fontsize=17, handlelength=0.95, handletextpad=0.05, labelspacing=0.74,
            borderpad=0, borderaxespad=0)

fig.savefig('out.png', dpi=100)
